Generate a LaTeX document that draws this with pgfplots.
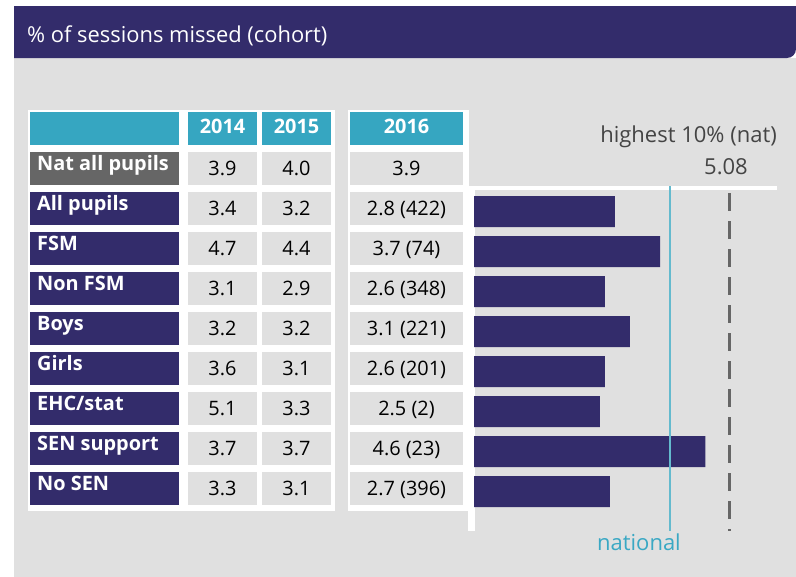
\documentclass[border=0pt]{standalone}
\usepackage{fontspec}
\setmainfont{Open Sans}
\usepackage{pgfplots}
\pgfplotsset{compat=1.18}
\definecolor{hdr}{RGB}{51,44,107}
\definecolor{panel}{RGB}{224,224,224}
\definecolor{tealhdr}{RGB}{54,166,193}
\definecolor{labgray}{RGB}{102,102,102}
\definecolor{natline}{RGB}{100,186,206}
\definecolor{nattext}{RGB}{58,168,196}
\definecolor{txtgray}{RGB}{68,68,68}
\definecolor{dashgray}{RGB}{102,102,102}
\newcommand{\cellfont}{\fontsize{19.9bp}{23bp}\selectfont}
\newcommand{\chartfont}{\fontsize{22bp}{25bp}\selectfont}
\newcommand{\trow}[6]{%
  \fill[#2] (30,#1) rectangle (179,{#1+33});
  \fill[panel] (188,#1) rectangle (257,{#1+33});
  \fill[panel] (262,#1) rectangle (331,{#1+33});
  \fill[panel] (350,#1) rectangle (463,{#1+33});
  \node[anchor=base west, text=white, inner sep=0, font=\cellfont\bfseries] at (37,{#1+18}) {#3};
  \node[anchor=base, inner sep=0, font=\cellfont] at (222.5,{#1+23}) {#4};
  \node[anchor=base, inner sep=0, font=\cellfont] at (296.5,{#1+23}) {#5};
  \node[anchor=base, inner sep=0, font=\cellfont] at (406.5,{#1+23}) {#6};
}
\begin{document}
\begin{tikzpicture}
\useasboundingbox (0,0) rectangle (796bp,-577bp);
\begin{scope}[x=1bp,y=-1bp]
  \fill[white] (0,0) rectangle (796,577);
  \fill[panel] (14,58) rectangle (796,577);
  \fill[hdr] (14,6) -- (796,6) [rounded corners=9bp] -- (796,58) [sharp corners] -- (14,58) -- cycle;
  \node[anchor=base west, text=white, inner sep=0, font=\fontsize{21.9bp}{25bp}\selectfont] at (27,42) {\% of sessions missed (cohort)};
  % table backgrounds
  \fill[white] (28,110) rectangle (335,511);
  \fill[white] (348,110) rectangle (469,511);
  % header row
  \fill[tealhdr] (30,112) rectangle (179,145);
  \fill[tealhdr] (188,112) rectangle (257,145);
  \fill[tealhdr] (262,112) rectangle (331,145);
  \fill[tealhdr] (350,112) rectangle (463,145);
  \node[anchor=base, text=white, inner sep=0, font=\cellfont\bfseries] at (222.5,133) {2014};
  \node[anchor=base, text=white, inner sep=0, font=\cellfont\bfseries] at (296.5,133) {2015};
  \node[anchor=base, text=white, inner sep=0, font=\cellfont\bfseries] at (406.5,133) {2016};
  \trow{152}{labgray}{Nat all pupils}{3.9}{4.0}{3.9}
  \trow{192}{hdr}{All pupils}{3.4}{3.2}{2.8 (422)}
  \trow{232}{hdr}{FSM}{4.7}{4.4}{3.7 (74)}
  \trow{272}{hdr}{Non FSM}{3.1}{2.9}{2.6 (348)}
  \trow{312}{hdr}{Boys}{3.2}{3.2}{3.1 (221)}
  \trow{352}{hdr}{Girls}{3.6}{3.1}{2.6 (201)}
  \trow{392}{hdr}{EHC/stat}{5.1}{3.3}{2.5 (2)}
  \trow{432}{hdr}{SEN support}{3.7}{3.7}{4.6 (23)}
  \trow{472}{hdr}{No SEN}{3.3}{3.1}{2.7 (396)}
  % chart frame lines
  \fill[white] (469,186) rectangle (777,190);
  \fill[white] (468,186) rectangle (475,531);
  % chart labels
  \node[anchor=base east, text=txtgray, inner sep=0, font=\chartfont] at (777,142) {highest 10\% (nat)};
  \node[anchor=base east, text=txtgray, inner sep=0, font=\chartfont] at (748,174) {5.08};
  \node[anchor=base east, text=nattext, inner sep=0, font=\chartfont] at (681,550) {national};
\end{scope}
\begin{axis}[at={(474bp,-531bp)}, anchor=south west, scale only axis,
  width=301.8bp, height=345bp, xmin=0, xmax=6, ymin=-0.6375, ymax=7.9875,
  y dir=reverse, hide axis, clip=false]
\addplot[xbar, bar width=31bp, fill=hdr, draw=none] coordinates {
  (2.8,0) (3.7,1) (2.6,2) (3.1,3) (2.6,4) (2.5,5) (4.6,6) (2.7,7)};
\addplot[natline, line width=2.2bp] coordinates {(3.9,-0.6375) (3.9,7.9875)};
\addplot[dashgray, line width=2.5bp, dash pattern=on 18bp off 10bp, dash phase=18.5bp] coordinates {(5.08,-0.7) (5.08,7.9875)};
\end{axis}
\end{tikzpicture}
\end{document}
